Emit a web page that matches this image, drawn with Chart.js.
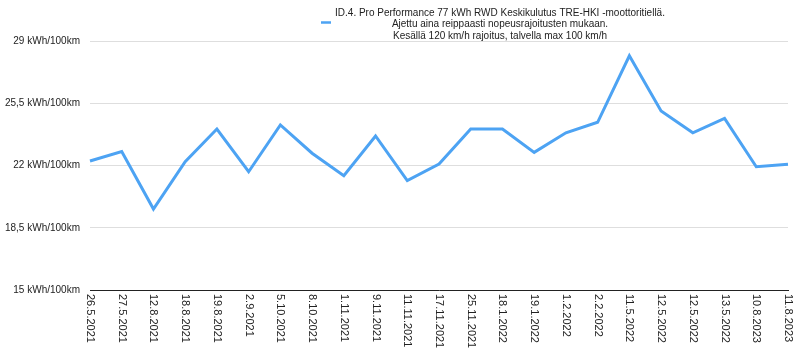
<!DOCTYPE html>
<html>
<head>
<meta charset="utf-8">
<script src="https://cdn.jsdelivr.net/npm/chart.js@4/dist/chart.umd.min.js"></script>
<style>
  html, body { margin: 0; padding: 0; background: #fff; }
  #wrap { width: 800px; height: 351px; }
</style>
</head>
<body>
<div id="wrap"><canvas id="c"></canvas></div>
<script>
// päivämäärät (x-akseli)
const dates = [
  "26.5.2021", "27.5.2021", "12.8.2021", "18.8.2021", "19.8.2021", "2.9.2021",
  "5.10.2021", "8.10.2021", "1.11.2021", "9.11.2021", "11.11.2021", "17.11.2021",
  "25.11.2021", "18.1.2022", "19.1.2022", "1.2.2022", "2.2.2022", "11.5.2022",
  "12.5.2022", "12.5.2022", "13.5.2022", "10.8.2023", "11.8.2023"
];
// keskikulutus kWh/100km
const consumption = [
  22.25, 22.78, 19.55, 22.21, 24.05, 21.65,
  24.28, 22.69, 21.43, 23.66, 21.15, 22.08,
  24.05, 24.05, 22.74, 23.84, 24.43, 28.17,
  25.06, 23.84, 24.65, 21.93, 22.07
];
// y-akselin jaot
const yTicks = [15, 18.5, 22, 25.5, 29];
// selite (kolme riviä)
const legendLines = [
  "ID.4. Pro Performance 77 kWh RWD Keskikulutus TRE-HKI -moottoritiellä.",
  "Ajettu aina reippaasti nopeusrajoitusten mukaan.",
  "Kesällä 120 km/h rajoitus, talvella max 100 km/h"
];

const FONT = '"Liberation Sans", Arial, Helvetica, sans-serif';
const LINE_COLOR = '#4da3f3';

//x labels rotated clockwise (top to bottom)
const xLabelsPlugin = {
  id: 'xLabels',
  afterDraw(chart) {
    const ctx = chart.ctx;
    const xs = chart.scales.x;
    const top = chart.chartArea.bottom + 4;
    ctx.save();
    ctx.font = '11px ' + FONT;
    ctx.fillStyle = '#222';
    ctx.textAlign = 'left';
    ctx.textBaseline = 'middle';
    dates.forEach((d, i) => {
      ctx.save();
      ctx.translate(xs.getPixelForTick(i), top);
      ctx.rotate(Math.PI / 2);
      ctx.fillText(d, 0, 0);
      ctx.restore();
    });
    ctx.restore();
  }
};

//legend with multi-line text
const legendPlugin = {
  id: 'multiLegend',
  afterDraw(chart) {
    const ctx = chart.ctx;
    const cx = 500;
    ctx.save();
    ctx.font = '10px ' + FONT;
    ctx.fillStyle = '#222';
    ctx.textAlign = 'center';
    ctx.textBaseline = 'middle';
    legendLines.forEach((t, i) => ctx.fillText(t, cx, 13 + i * 11.5));
    ctx.strokeStyle = LINE_COLOR;
    ctx.lineWidth = 2.5;
    ctx.beginPath();
    ctx.moveTo(321, 22.5);
    ctx.lineTo(331, 22.5);
    ctx.stroke();
    ctx.restore();
  }
};

new Chart(document.getElementById('c'), {
  type: 'line',
  data: {
    labels: dates,
    datasets: [{
      label: legendLines.join(' '),
      data: consumption,
      borderColor: LINE_COLOR,
      borderWidth: 3,
      pointRadius: 0,
      tension: 0,
      fill: false
    }]
  },
  options: {
    responsive: true,
    maintainAspectRatio: false,
    animation: false,
    layout: { padding: { top: 41, right: 12, left: 0, bottom: 0 } },
    plugins: {
      legend: { display: false },
      tooltip: { enabled: false }
    },
    scales: {
      x: {
        offset: false,
        grid: { display: false, drawTicks: false },
        border: { display: true, color: '#222', width: 1 },
        ticks: { display: false },
        afterFit(scale) { scale.height = 61; }
      },
      y: {
        min: 15,
        max: 29,
        afterBuildTicks(scale) { scale.ticks = yTicks.map(v => ({ value: v })); },
        grid: { color: '#dedede', drawTicks: false },
        border: { display: false },
        ticks: {
          padding: 10,
          color: '#222',
          font: { family: FONT, size: 10 },
          callback: v => String(v).replace('.', ',') + ' kWh/100km'
        },
        afterFit(scale) { scale.width = 90; }
      }
    }
  },
  plugins: [xLabelsPlugin, legendPlugin]
});
</script>
</body>
</html>
